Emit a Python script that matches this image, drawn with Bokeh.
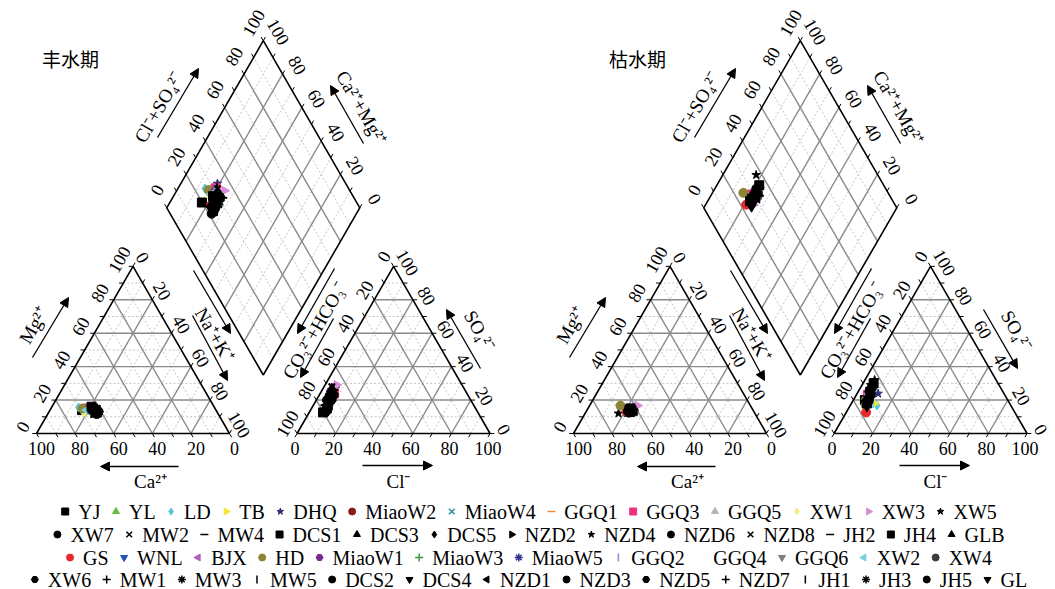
import numpy as np
from bokeh.plotting import figure
from bokeh.models import Range1d, Arrow, NormalHead, ColumnDataSource
from bokeh.core.properties import value
from bokeh.embed import file_html
from bokeh.resources import INLINE

# ---------------- data ----------------
NAMES = ["YJ", "YL", "LD", "TB", "DHQ", "MiaoW2", "MiaoW4", "GGQ1", "GGQ3", "GGQ5", "XW1", "XW3", "XW5",
         "XW7", "MW2", "MW4", "DCS1", "DCS3", "DCS5", "NZD2", "NZD4", "NZD6", "NZD8", "JH2", "JH4", "GLB",
         "GS", "WNL", "BJX", "HD", "MiaoW1", "MiaoW3", "MiaoW5", "GGQ2", "GGQ4", "GGQ6", "XW2", "XW4",
         "XW6", "MW1", "MW3", "MW5", "DCS2", "DCS4", "NZD1", "NZD3", "NZD5", "NZD7", "JH1", "JH3", "JH5", "GL"]
MARKERS = ["square", "triangle", "diamond", "triangle_right", "star", "circle", "x", "dash", "square",
           "triangle", "diamond", "triangle_right", "star",
           "circle", "x", "dash", "square", "triangle", "diamond", "triangle_right", "star", "circle", "x",
           "dash", "square", "triangle",
           "circle", "inverted_triangle", "triangle_left", "circle", "hex", "cross", "asterisk", "vdash",
           "circle", "inverted_triangle", "triangle_left", "circle",
           "hex", "cross", "asterisk", "vdash", "circle", "inverted_triangle", "triangle_left", "circle",
           "hex", "cross", "vdash", "asterisk", "circle", "inverted_triangle"]
COLORS = ["black", "#6abd45", "#55c8d8", "#f2e43a", "#2b2f75", "#8b1a1a", "#2a8f8f", "#f08a3c", "#e8337d",
          "#b4b4b4", "#f0ee8a", "#d68fd6", "black"] + ["black"] * 13 + \
         ["#e8282b", "#2454b8", "#b05cc0", "#8b8535", "#7a2a8a", "#3a9a3a", "#33338a", "#8c8cd8",
          "#ffffff", "#7f7f7f", "#78d2dc", "#3c3c3c"] + ["black"] * 14

# 丰水期 (wet season), percentages of meq
WET_CA = [69.4, 66, 70.4, 67, 66, 64, 65, 64.5, 65.5, 66, 69.3, 61, 63,
          62, 64, 63.5, 62.5, 63, 61.5, 64.5, 62, 63, 61, 65, 63.5, 62,
          64, 65, 64, 68.7, 65, 64, 63.5, 65, 64, 63, 67, 62.5,
          63, 61, 62, 61.5, 63, 62.5, 64, 61.5, 63.5, 62, 64.5, 61, 62.5, 63]
WET_MG = [14.0, 14.5, 15.6, 13, 15, 14, 13.5, 14.5, 15, 13, 12.6, 14.3, 12.5,
          13, 15.5, 14, 12.5, 15, 13.5, 12, 14.5, 12, 15, 12.5, 16, 14,
          13.8, 14.5, 15.5, 15, 15, 13, 14.5, 16, 14, 13.5, 14, 13,
          11.5, 13.5, 15, 12.5, 14.5, 16, 12, 14, 13, 12, 15.5, 13, 14.5, 12.5]
WET_CL = [7.2, 6.5, 6.0, 7.5, 6.5, 7, 8, 6.8, 7.2, 6.5, 7.5, 6, 5,
          5.5, 4, 6, 8, 7, 9, 6, 5.5, 8.5, 7, 6, 6.5, 4.5,
          8, 5.5, 5, 6, 5.5, 7, 6, 6.5, 7, 7.5, 8, 6.5,
          7.5, 5, 6, 8, 7, 6.5, 5.5, 7.5, 8, 6, 5, 7, 8.5, 6.5]
WET_SO4 = [12.6, 22, 19.6, 20, 27, 22, 21, 23, 24, 21, 18, 29, 26,
           20, 28, 24, 15, 18, 14, 23, 25, 13, 19, 17, 21, 27,
           16, 24, 26, 21, 25, 22, 23, 24, 20, 22, 19, 22,
           17, 25, 20, 18, 19, 21, 24, 23, 20, 26, 27, 21, 15, 19]
# 枯水期 (dry season)
DRY_CA = [65, 64, 64.5, 64, 63.5, 64, 63, 65, 64.5, 63.5, 64, 58.5, 70.7,
          64, 63, 65.5, 64, 63, 62.5, 64.5, 63.5, 65, 62, 64, 63, 65,
          66, 63.5, 62, 67.3, 63, 64, 63.5, 64.5, 63, 62.5, 64, 62,
          64.5, 63, 65, 62.5, 64, 63.5, 62, 65, 63, 64.5, 62.5, 63.5, 64, 62.5]
DRY_MG = [13, 14, 13.5, 14.5, 13, 13.5, 14, 13.5, 14.5, 13, 15, 16.7, 12,
          13.5, 14.5, 12.5, 14, 12.5, 14, 13, 14.5, 13.5, 13, 12.5, 15, 14,
          13, 14, 15.5, 16.7, 15, 14, 13.5, 15, 14, 13, 14.5, 13.5,
          12.5, 14, 13, 14.5, 13, 15, 14, 12.5, 13.5, 14, 12.5, 14.5, 13.5, 13]
DRY_CL = [6, 5.5, 13.9, 11.7, 10.9, 7, 6.5, 7.5, 6, 8, 9, 9.5, 5,
          5.5, 6, 7, 8, 5, 6.5, 7.5, 4.5, 6, 7, 8.5, 5.5, 6,
          10.3, 8, 9.5, 8, 7, 6.5, 7.5, 6, 7, 8, 10, 7,
          6, 5, 7.5, 6.5, 8, 7, 6, 7.5, 8.5, 5.5, 7, 6.5, 8, 9]
DRY_SO4 = [20, 22, 16.7, 17.9, 23.9, 21, 24, 19, 23, 20, 18, 17, 32,
           26, 24, 21, 18, 28, 25, 22, 29, 27, 23, 19, 30, 25,
           12.6, 20, 19, 17, 22, 23, 21, 24, 22, 21, 18, 24,
           26, 27, 20, 22, 19, 21, 25, 23, 18, 28, 24, 26, 20, 16]

TICKS = [0, 20, 40, 60, 80, 100]
PERIOD_TITLES = ["丰水期", "枯水期"]

# ---------------- layout constants ----------------
W, H = 1055, 589
S = 1.93            # px per unit (triangle side = 100 units)
G = 35.0            # gap between triangles (units)
SQ = np.sqrt(3) / 2
DX2 = 537 / S       # offset of the second diagram
X0, Y0 = 36, 433    # page position of the first cation triangle's left vertex
SERIF = "Liberation Serif"


def cat_xy(ca, mg, ox):
    nak = 100 - ca - mg
    return ox + nak + mg / 2, SQ * mg


def an_xy(cl, so4, ox):
    return ox + 100 + G + cl + so4 / 2, SQ * so4


def dia(u, v, ox):
    return ox + 100 + G / 2 + 0.5 * (v - u), SQ * G + SQ * (u + v)


def pg(xp, yp):
    return (xp - X0) / S, (Y0 - yp) / S


p = figure(width=W, height=H, min_border=0, toolbar_location=None, output_backend="svg",
           x_axis_location=None, y_axis_location=None,
           x_range=Range1d(-X0 / S, (W - X0) / S), y_range=Range1d(-(H - Y0) / S, Y0 / S))
p.grid.visible = False
p.outline_line_color = None
p.background_fill_color = "white"

lab = {"x": [], "y": [], "t": [], "a": []}


def add_lab(x, y, t, ang, off):
    lab["x"].append(x + off[0] / S)
    lab["y"].append(y - off[1] / S)
    lab["t"].append(t)
    lab["a"].append(ang)


A60 = np.pi / 3
for ox in [0.0, DX2]:
    majx, majy, minx, miny = [], [], [], []
    for k in range(10, 100, 10):
        segs = [
            (cat_xy(100 - k, k, ox), cat_xy(0, k, ox)),
            (cat_xy(100 - k, 0, ox), cat_xy(0, 100 - k, ox)),
            (cat_xy(k, 0, ox), cat_xy(k, 100 - k, ox)),
            (an_xy(0, k, ox), an_xy(100 - k, k, ox)),
            (an_xy(k, 0, ox), an_xy(k, 100 - k, ox)),
            (an_xy(100 - k, 0, ox), an_xy(0, 100 - k, ox)),
            (dia(k, 0, ox), dia(k, 100, ox)),
            (dia(0, k, ox), dia(100, k, ox)),
        ]
        for a, b in segs:
            if k % 20 == 0:
                majx.append([a[0], b[0]]); majy.append([a[1], b[1]])
            else:
                minx.append([a[0], b[0]]); miny.append([a[1], b[1]])
    p.multi_line(minx, miny, line_color="#c4c4c4", line_width=1, line_dash="2 2")
    p.multi_line(majx, majy, line_color="#8a8a8a", line_width=1.4)

    # ticks
    tx, ty = [], []
    L = 2.2
    for k in range(0, 101, 10):
        for (x, y), (dx, dy) in [
            (cat_xy(k, 0, ox), (0.5, -SQ)),
            (cat_xy(100 - k, k, ox), (-1, 0)),
            (cat_xy(0, k, ox), (0.5, SQ)),
            (an_xy(k, 0, ox), (-0.5, -SQ)),
            (an_xy(0, k, ox), (-0.5, SQ)),
            (an_xy(100 - k, k, ox), (1, 0)),
            (dia(100, k, ox), (-0.5, SQ)),
            (dia(k, 100, ox), (0.5, SQ)),
        ]:
            tx.append([x, x + L * dx]); ty.append([y, y + L * dy])
    p.multi_line(tx, ty, line_color="black", line_width=1)

    # outlines
    tri_c = [cat_xy(100, 0, ox), cat_xy(0, 0, ox), cat_xy(0, 100, ox), cat_xy(100, 0, ox)]
    tri_a = [an_xy(0, 0, ox), an_xy(100, 0, ox), an_xy(0, 100, ox), an_xy(0, 0, ox)]
    dmd = [dia(0, 0, ox), dia(100, 0, ox), dia(100, 100, ox), dia(0, 100, ox), dia(0, 0, ox)]
    for shape in [tri_c, tri_a, dmd]:
        p.line([q[0] for q in shape], [q[1] for q in shape], line_color="black", line_width=1.6)

    # tick labels
    for k in TICKS:
        x, y = cat_xy(k, 0, ox); add_lab(x, y, str(k), 0, (5, 15))
        x, y = cat_xy(100 - k, k, ox); add_lab(x, y, str(k), A60, (-14, -7))
        x, y = cat_xy(0, 100 - k, ox); add_lab(x, y, str(k), -A60, (10, -9))
        x, y = an_xy(k, 0, ox); add_lab(x, y, str(k), 0, (-2, 15))
        x, y = an_xy(0, 100 - k, ox); add_lab(x, y, str(k), A60, (-10, -10))
        x, y = an_xy(100 - k, k, ox); add_lab(x, y, str(k), -A60, (14, -4))
        x, y = dia(100, k, ox); add_lab(x, y, str(k), A60, (-10, -18))
        x, y = dia(k, 100, ox); add_lab(x, y, str(k), -A60, (15, -9))

p.text(x="x", y="y", text="t", angle="a", source=ColumnDataSource(lab),
       text_font=value(SERIF), text_font_size="18px", text_align="center",
       text_baseline="middle", text_color="black")

# ---------------- axis titles and arrows (page px, diagram 1) ----------------
TITLES = [("Mg²⁺", 33, 325, A60), ("Na⁺+K⁺", 214, 334, -A60), ("CO₃²⁻+HCO₃⁻", 314, 330, A60),
          ("SO₄²⁻", 479, 330, -A60), ("Ca²⁺", 150, 481, 0), ("Cl⁻", 398, 481, 0),
          ("Cl⁻+SO₄²⁻", 158, 107, A60), ("Ca²⁺+Mg²⁺", 361, 107, -A60)]
ARROWS1 = [((32, 357), (68, 297)), ((193, 270), (230, 333)), ((192, 315), (227, 380)),
           ((334, 268), (297, 333)), ((333, 318), (300, 377)), ((480, 368), (446, 309)),
           ((178, 466), (100, 466)), ((362, 465), (432, 465)), ((157, 137), (198, 68)),
           ((363, 143), (330, 85))]
ARROWS2 = ARROWS1[:5] + [((446, 309), (480, 368))] + ARROWS1[6:]

tt = {"x": [], "y": [], "t": [], "a": []}
for d, (ox_px, arrows) in enumerate([(0, ARROWS1), (537, ARROWS2)]):
    for t, xp, yp, a in TITLES:
        x, y = pg(xp + ox_px, yp)
        tt["x"].append(x); tt["y"].append(y); tt["t"].append(t); tt["a"].append(a)
    for (x0, y0), (x1, y1) in arrows:
        xs, ys = pg(x0 + ox_px, y0)
        xe, ye = pg(x1 + ox_px, y1)
        p.add_layout(Arrow(x_start=xs, y_start=ys, x_end=xe, y_end=ye, line_width=1.3,
                           line_color="black",
                           end=NormalHead(size=9, fill_color="black", line_color="black")))
p.text(x="x", y="y", text="t", angle="a", source=ColumnDataSource(tt),
       text_font=value(SERIF), text_font_size="19px", text_align="center",
       text_baseline="middle", text_color="black")

px_, py_ = zip(*[pg(70, 58), pg(637, 58)])
p.text(x=list(px_), y=list(py_), text=PERIOD_TITLES, text_font=value("Noto Sans CJK SC"),
       text_font_size="19px", text_align="center", text_baseline="middle", text_color="black")

# ---------------- samples ----------------
def marker_spec(m):
    if m == "triangle_right":
        return "triangle", -np.pi / 2
    if m == "triangle_left":
        return "triangle", np.pi / 2
    if m == "vdash":
        return "dash", np.pi / 2
    return m, 0.0


LINE_MARKERS = ("x", "cross", "asterisk", "dash")
order = list(range(0, 13)) + list(range(26, 38)) + list(range(13, 26)) + list(range(38, 52))
for ox, CA, MG, CL, SO in [(0.0, WET_CA, WET_MG, WET_CL, WET_SO4), (DX2, DRY_CA, DRY_MG, DRY_CL, DRY_SO4)]:
    for i in order:
        c1 = cat_xy(CA[i], MG[i], ox)
        a1 = an_xy(CL[i], SO[i], ox)
        d1 = dia(CA[i] + MG[i], CL[i] + SO[i], ox)
        mk, ang = marker_spec(MARKERS[i])
        src = ColumnDataSource(dict(x=[c1[0], a1[0], d1[0]], y=[c1[1], a1[1], d1[1]], ang=[ang] * 3))
        lw = 2 if mk in LINE_MARKERS else 1
        p.scatter("x", "y", source=src, marker=mk, angle="ang", size=9,
                  fill_color=COLORS[i], line_color=COLORS[i], line_width=lw)

# ---------------- legend (4 centred rows, drawn as glyphs) ----------------
CW = {"A": 722, "B": 667, "C": 667, "D": 722, "G": 722, "H": 722, "J": 389, "L": 611, "M": 889,
      "N": 722, "Q": 722, "S": 556, "T": 611, "W": 944, "X": 722, "Y": 722, "Z": 611,
      "a": 444, "i": 278, "o": 500}
LFS = 20


def tw(s):
    return sum(CW.get(c, 500) for c in s) * LFS / 1000


ROWS = [range(0, 13), range(13, 26), range(26, 38), range(38, 52)]
ROW_CY = [511, 534, 557, 579]
CENTER = 527
G1, G2 = 13, 15.5
leg_txt = {"x": [], "y": [], "t": []}
for rows, cy in zip(ROWS, ROW_CY):
    ws = [tw(NAMES[i]) for i in rows]
    extent = 7 + G1 + sum(ws) + (G1 + G2) * (len(ws) - 1)
    xm = CENTER - extent / 2 + 7
    for i, w in zip(rows, ws):
        mk, ang = marker_spec(MARKERS[i])
        mx, my = pg(xm, cy)
        lw = 1.5 if mk in LINE_MARKERS else 1
        p.scatter([mx], [my], marker=mk, angle=ang, size=8 if mk in LINE_MARKERS else 7,
                  fill_color=COLORS[i], line_color=COLORS[i], line_width=lw)
        tx_, ty_ = pg(xm + G1, cy)
        leg_txt["x"].append(tx_); leg_txt["y"].append(ty_); leg_txt["t"].append(NAMES[i])
        xm += G1 + w + G2
p.text(x="x", y="y", text="t", source=ColumnDataSource(leg_txt), text_font=value(SERIF),
       text_font_size=f"{LFS}px", text_align="left", text_baseline="middle", text_color="black")

open("out.html", "w").write(file_html(p, INLINE))
